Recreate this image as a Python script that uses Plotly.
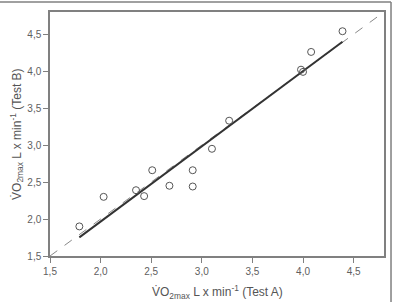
import numpy as np
import plotly.graph_objects as go

test_a = [1.79, 2.03, 2.35, 2.43, 2.51, 2.68, 2.91, 2.91, 3.10, 3.27, 3.98, 4.00, 4.08, 4.39]
test_b = [1.90, 2.30, 2.39, 2.31, 2.66, 2.45, 2.66, 2.44, 2.95, 3.33, 4.02, 3.99, 4.26, 4.54]
axis_range = [1.5, 4.8]
tick_vals = [1.5, 2.0, 2.5, 3.0, 3.5, 4.0, 4.5]
tick_text = ["1,5", "2,0", "2,5", "3,0", "3,5", "4,0", "4,5"]
x_title = "V\u0307O<sub>2max</sub> L x min<sup>-1</sup> (Test A)"
y_title = "V\u0307O<sub>2max</sub> L x min<sup>-1</sup> (Test B)"

slope, intercept = np.polyfit(test_a, test_b, 1)
reg_x = np.array([min(test_a), max(test_a)])
reg_y = slope * reg_x + intercept

fig = go.Figure()
fig.add_trace(go.Scatter(x=axis_range, y=axis_range, mode="lines",
                         line=dict(color="#888888", width=1, dash="dash"), hoverinfo="skip"))
fig.add_trace(go.Scatter(x=reg_x, y=reg_y, mode="lines",
                         line=dict(color="#333333", width=2)))
fig.add_trace(go.Scatter(x=test_a, y=test_b, mode="markers",
                         marker=dict(symbol="circle-open", size=7, color="#555555", line=dict(width=1))))

axis_common = dict(range=axis_range, tickvals=tick_vals, ticktext=tick_text, automargin=False,
                   showgrid=False, zeroline=False, showline=True, linecolor="#808080",
                   linewidth=1.5, mirror=True, ticks="outside", ticklen=5, tickcolor="#808080",
                   tickfont=dict(family="Liberation Sans, Arial", size=10, color="#606060"))

title_font = dict(family="Liberation Sans, Arial", size=12, color="#555555")

fig.update_layout(
    width=396, height=302,
    margin=dict(l=50, r=12, t=12, b=46),
    paper_bgcolor="white", plot_bgcolor="white",
    showlegend=False,
    xaxis=axis_common,
    yaxis=axis_common,
    annotations=[
        dict(text=x_title, xref="paper", yref="paper", x=0.5, y=-0.148,
             xanchor="center", yanchor="middle", showarrow=False, font=title_font),
        dict(text=y_title, xref="paper", yref="paper", x=-0.099, y=0.5, textangle=-90,
             xanchor="center", yanchor="middle", showarrow=False, font=title_font),
    ],
    shapes=[
        dict(type="line", xref="paper", yref="paper", x0=-0.2, x1=1.021, y0=1.041, y1=1.041,
             line=dict(color="#808080", width=1.5)),
        dict(type="line", xref="paper", yref="paper", x0=1.021, x1=1.021, y0=1.041, y1=-0.25,
             line=dict(color="#808080", width=1.5)),
    ],
)

fig.write_html("out.html")
